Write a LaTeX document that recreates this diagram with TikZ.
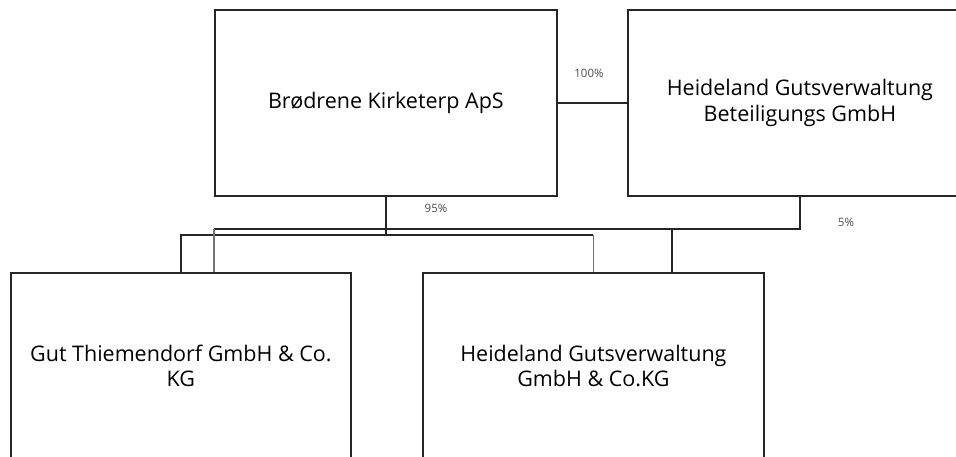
\documentclass[tikz,border=0pt]{standalone}
\usepackage{fontspec}
\setmainfont{Open Sans}
\begin{document}
\begin{tikzpicture}[x=1pt,y=-1pt,
  ent/.style={draw=black!85, line width=1.8pt, minimum width=342pt, minimum height=186pt,
    anchor=north west, align=center, inner sep=0pt, font=\fontsize{21.5}{25.5}\selectfont},
  link/.style={draw=black!85, line width=1.8pt},
  glink/.style={draw=black!55, line width=1.8pt},
  pct/.style={font=\fontsize{11.5}{13}\selectfont, text=black!70, inner sep=0pt}]
\useasboundingbox (0,0) rectangle (956,456);
\clip (0,0) rectangle (956,456);
\node[ent] (A) at (214,9) {Brødrene Kirketerp ApS};
\node[ent, minimum width=344pt] (B) at (627,9) {Heideland Gutsverwaltung\\Beteiligungs GmbH};
\node[ent, minimum width=340pt] (C1) at (10,272) {Gut Thiemendorf GmbH \& Co.\\KG};
\node[ent, minimum width=341pt] (C2) at (422,272) {Heideland Gutsverwaltung\\GmbH \& Co.KG};
\coordinate (b95) at (386,235);
\coordinate (b5) at (799,229);
\coordinate (d1) at ([xshift=204pt]C1.north west);
\coordinate (d2) at ([xshift=250pt]C2.north west);
\draw[link] (A.east) -- (B.west);
\draw[link] (A.south) -- (A.south |- b95);
\draw[link] (C1.north) |- (C2.north |- b95);
\draw[glink] (C2.north |- b95) -- (C2.north);
\draw[link] (B.south) -- (B.south |- b5) -- (d1 |- b5);
\draw[glink] (d1 |- b5) -- (d1);
\draw[link] (d2 |- b5) -- (d2);
\node[pct] (l100) at (589,73) {100\%};
\node[pct] (l95) at (436,208) {95\%};
\node[pct] (l5) at (846,222) {5\%};
\end{tikzpicture}
\end{document}
